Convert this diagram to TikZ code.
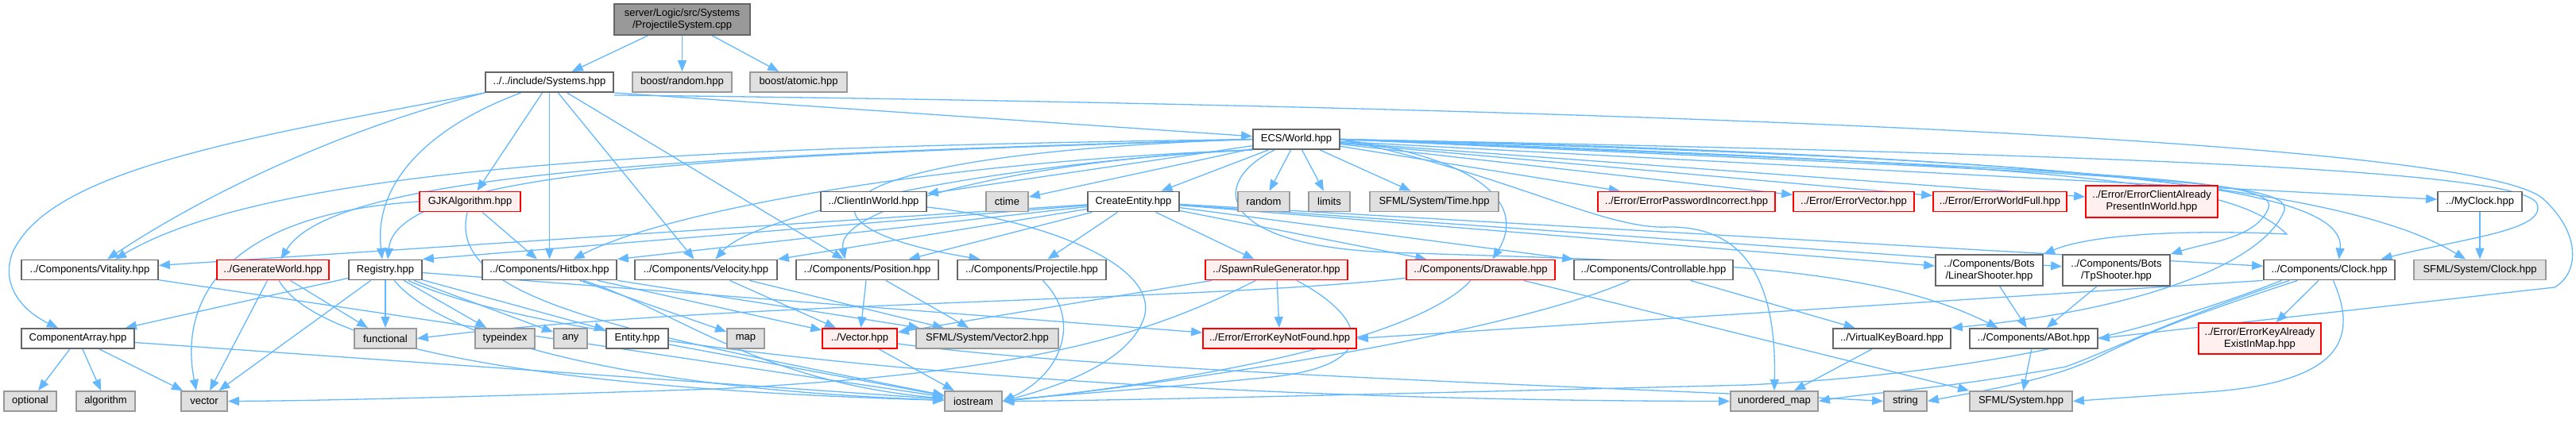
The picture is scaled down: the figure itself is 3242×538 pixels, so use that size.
\documentclass[tikz,border=0pt]{standalone}
\usepackage{fontspec}
\setmainfont{Liberation Sans}
\definecolor{inclblue}{HTML}{63B8FF}
\definecolor{boxline}{HTML}{666666}
\definecolor{stdline}{HTML}{999999}
\definecolor{stdfill}{HTML}{E0E0E0}
\definecolor{errfill}{HTML}{FFF0F0}
\definecolor{srcfill}{HTML}{999999}
\usetikzlibrary{arrows.meta,backgrounds}

\begin{document}
\begin{tikzpicture}[x=1pt, y=-1pt,
    every node/.style={font=\fontsize{13}{15}\selectfont, inner sep=0pt, minimum height=25pt, line width=1.8pt, align=center},
    hdrbox/.style={draw=boxline, fill=white},
    stdbox/.style={draw=stdline, fill=stdfill},
    errbox/.style={draw=red, fill=errfill},
    srcbox/.style={draw=boxline, fill=srcfill},
    incl/.style={inclblue, line width=1.3pt, -{Triangle[length=14pt, width=11pt]}}]
  \useasboundingbox (0,0) rectangle (3242,538);

  % source file and first level
  \node[srcbox, minimum width=171pt, minimum height=39pt] (root) at (858.5,24.5) {server/Logic/src/Systems\\/ProjectileSystem.cpp};
  \node[hdrbox, minimum width=161pt] (sys) at (691.5,103.5) {../../include/Systems.hpp};
  \node[stdbox, minimum width=125pt] (brand) at (858.5,103.5) {boost/random.hpp};
  \node[stdbox, minimum width=122pt] (batom) at (1005,103.5) {boost/atomic.hpp};
  \node[hdrbox, minimum width=109pt] (world) at (1631.5,175.5) {ECS/World.hpp};

  % third row
  \node[errbox, minimum width=127pt] (gjk) at (591.5,254) {GJKAlgorithm.hpp};
  \node[hdrbox, minimum width=133pt] (client) at (1099.5,254) {../ClientInWorld.hpp};
  \node[stdbox, minimum width=53pt] (ctime) at (1267.5,254) {ctime};
  \node[hdrbox, minimum width=115pt] (create) at (1426.5,254) {CreateEntity.hpp};
  \node[stdbox, minimum width=65pt] (random) at (1590.5,254) {random};
  \node[stdbox, minimum width=52pt] (limits) at (1673,254) {limits};
  \node[stdbox, minimum width=162pt] (time) at (1805,254) {SFML/System/Time.hpp};
  \node[errbox, minimum width=223pt] (errpwd) at (2122.5,254) {../Error/ErrorPasswordIncorrect.hpp};
  \node[errbox, minimum width=152pt] (errvec) at (2333,254) {../Error/ErrorVector.hpp};
  \node[errbox, minimum width=168pt] (errfull) at (2517,254) {../Error/ErrorWorldFull.hpp};
  \node[errbox, minimum width=166pt, minimum height=40pt] (errclient) at (2708,254) {../Error/ErrorClientAlready\\PresentInWorld.hpp};
  \node[hdrbox, minimum width=106pt] (myclock) at (3121,254) {../MyClock.hpp};

  % fourth row
  \node[hdrbox, minimum width=172pt] (vitality) at (113,340) {../Components/Vitality.hpp};
  \node[errbox, minimum width=141pt] (genworld) at (343.5,340) {../GenerateWorld.hpp};
  \node[hdrbox, minimum width=92pt] (registry) at (485,340) {Registry.hpp};
  \node[hdrbox, minimum width=169pt] (hitbox) at (691.5,340) {../Components/Hitbox.hpp};
  \node[hdrbox, minimum width=179pt] (velocity) at (888.5,340) {../Components/Velocity.hpp};
  \node[hdrbox, minimum width=179pt] (position) at (1091.5,340) {../Components/Position.hpp};
  \node[hdrbox, minimum width=187pt] (projectile) at (1298.5,340) {../Components/Projectile.hpp};
  \node[errbox, minimum width=179pt] (spawn) at (1606.5,340) {../SpawnRuleGenerator.hpp};
  \node[errbox, minimum width=187pt] (drawable) at (1863.5,340) {../Components/Drawable.hpp};
  \node[hdrbox, minimum width=200pt] (control) at (2081,340) {../Components/Controllable.hpp};
  \node[hdrbox, minimum width=135pt, minimum height=39pt] (linear) at (2503.5,340.5) {../Components/Bots\\/LinearShooter.hpp};
  \node[hdrbox, minimum width=135pt, minimum height=39pt] (tpshoot) at (2663.5,340.5) {../Components/Bots\\/TpShooter.hpp};
  \node[hdrbox, minimum width=165pt] (clock) at (2931.5,340) {../Components/Clock.hpp};
  \node[stdbox, minimum width=166pt] (sfclock) at (3121,340) {SFML/System/Clock.hpp};

  % fifth row
  \node[hdrbox, minimum width=142pt] (comparray) at (98,426.5) {ComponentArray.hpp};
  \node[stdbox, minimum width=78pt] (functional) at (485,426.5) {functional};
  \node[stdbox, minimum width=75pt] (typeindex) at (635.5,426.5) {typeindex};
  \node[stdbox, minimum width=42pt] (any) at (718,426.5) {any};
  \node[hdrbox, minimum width=78pt] (entity) at (802,426.5) {Entity.hpp};
  \node[stdbox, minimum width=47pt] (map) at (938.5,426.5) {map};
  \node[errbox, minimum width=94pt] (vecfile) at (1082,426.5) {../Vector.hpp};
  \node[stdbox, minimum width=179pt] (sfvec2) at (1242.5,426.5) {SFML/System/Vector2.hpp};
  \node[errbox, minimum width=193pt] (errkey) at (1610.5,426.5) {../Error/ErrorKeyNotFound.hpp};
  \node[hdrbox, minimum width=148pt] (vkb) at (2381,426.5) {../VirtualKeyBoard.hpp};
  \node[hdrbox, minimum width=161pt] (abot) at (2559.5,426.5) {../Components/ABot.hpp};
  \node[errbox, minimum width=154pt, minimum height=39pt] (errexist) at (2844,426.5) {../Error/ErrorKeyAlready\\ExistInMap.hpp};

  % bottom row
  \node[stdbox, minimum width=66pt] (optional) at (38,505.5) {optional};
  \node[stdbox, minimum width=74pt] (algorithm) at (133,505.5) {algorithm};
  \node[stdbox, minimum width=58pt] (vector) at (257,505.5) {vector};
  \node[stdbox, minimum width=72pt] (iostream) at (1225,505.5) {iostream};
  \node[stdbox, minimum width=110pt] (umap) at (2233,505.5) {unordered\_map};
  \node[stdbox, minimum width=54pt] (string) at (2398,505.5) {string};
  \node[stdbox, minimum width=129pt] (sfsys) at (2543.5,505.5) {SFML/System.hpp};

  \begin{scope}[on background layer]
    % source file
    \draw[incl] (root) -- (sys);
    \draw[incl] (root) -- (brand);
    \draw[incl] (root) -- (batom);

    % Systems.hpp
    \draw[incl] (sys.south east) -- (world);
    \draw[incl] ([yshift=-3]sys.south east) .. controls (1700,130) and (3100,165) .. (3200,250) .. controls (3250,295) and (3245,345) .. (3215,362) -- (abot.east);
    \draw[incl] (sys.south west) .. controls (300,175) and (60,215) .. (15,320) .. controls (0,365) and (35,395) .. ([xshift=-25]comparray.north);
    \draw[incl] (sys.south west) .. controls (420,165) and (250,250) .. ([xshift=22]vitality.north);
    \draw[incl] (sys) .. controls (540,160) and (470,230) .. ([xshift=-4]registry.north);
    \draw[incl] (sys) -- (gjk);
    \draw[incl] (sys) -- (hitbox);
    \draw[incl] (sys) -- ([xshift=-15]velocity.north);
    \draw[incl] (sys) -- ([xshift=-30]position.north);

    % ECS/World.hpp
    \draw[incl] (world.west) .. controls (900,185) and (350,205) .. ([xshift=32]vitality.north);
    \draw[incl] (world.west) .. controls (900,195) and (420,215) .. ([xshift=10]genworld.north);
    \draw[incl] (world.west) .. controls (1000,195) and (500,205) .. ([xshift=3]registry.north);
    \draw[incl] (world.south west) .. controls (1150,205) and (830,270) .. ([xshift=30]hitbox.north);
    \draw[incl] (world.south west) .. controls (1250,205) and (950,270) .. ([xshift=12]velocity.north);
    \draw[incl] (world.south west) .. controls (1300,200) and (1050,260) .. ([xshift=-28]position.north);
    \draw[incl] (world.west) .. controls (1000,195) and (980,285) .. ([xshift=-65]projectile.north);
    \draw[incl] (world) -- (client);
    \draw[incl] (world) -- (ctime);
    \draw[incl] (world) -- (create);
    \draw[incl] (world) -- (random);
    \draw[incl] (world) -- (limits);
    \draw[incl] (world) -- (time);
    \draw[incl] (world) -- (errpwd);
    \draw[incl] (world) -- (errvec);
    \draw[incl] (world) -- (errfull);
    \draw[incl] (world) -- (errclient);
    \draw[incl] (world) -- (myclock);
    \draw[incl] (world.east) .. controls (1870,200) and (1920,260) .. ([xshift=15]drawable.north);
    \draw[incl] (world.east) .. controls (1900,220) and (2020,290) .. (2100,286) .. controls (2200,285) and (2236,360) .. (umap.north);
    \draw[incl] (world) .. controls (1520,230) and (1530,310) .. (1750,318) .. controls (2100,330) and (2350,330) .. ([xshift=-45]abot.north);
    \draw[incl] (world.east) .. controls (2600,195) and (2960,240) .. ([xshift=-18]sfclock.north);
    \draw[incl] (world.east) .. controls (2600,200) and (2955,230) .. ([xshift=12]clock.north);
    \draw[incl] (world.east) .. controls (2700,195) and (3160,215) .. (3192,255) .. controls (3210,290) and (3100,300) .. ([xshift=65]clock.north);
    \draw[incl] (world.east) .. controls (2650,210) and (2810,230) .. (2878,295) .. controls (2780,290) and (2640,292) .. (linear.north east);
    \draw[incl] (world.east) .. controls (2650,215) and (2870,225) .. (2855,262) .. controls (2840,300) and (2780,305) .. (tpshoot.north east);
    \draw[incl] (world.east) .. controls (2650,220) and (2885,225) .. (2875,265) .. controls (2850,330) and (2700,390) .. (vkb.north east);

    % CreateEntity.hpp
    \draw[incl] (create) -- (vitality);
    \draw[incl] (create) -- (registry.north east);
    \draw[incl] (create) -- (hitbox.north east);
    \draw[incl] (create) -- (velocity.north east);
    \draw[incl] (create) -- (position);
    \draw[incl] (create) -- (projectile);
    \draw[incl] (create) -- (spawn);
    \draw[incl] (create) -- (drawable);
    \draw[incl] (create) -- (control);
    \draw[incl] (create) -- (linear);
    \draw[incl] (create) -- (tpshoot);
    \draw[incl] (create) -- (clock);

    % Registry.hpp and friends
    \draw[incl] (registry) -- (comparray);
    \draw[incl] (registry) -- (vector);
    \draw[incl] (registry) -- (functional);
    \draw[incl] (registry) -- (typeindex);
    \draw[incl] (registry) -- (any);
    \draw[incl] (registry) -- (entity);
    \draw[incl] (registry) -- (errkey);
    \draw[incl] (registry) .. controls (560,430) and (800,490) .. (iostream);
    \draw[incl] (registry) .. controls (700,440) and (1400,505) .. (umap.west);
    \draw[incl] (comparray) -- (optional);
    \draw[incl] (comparray) -- (algorithm);
    \draw[incl] (comparray) -- (vector);
    \draw[incl] (comparray) -- (iostream);
    \draw[incl] (entity) -- (iostream);
    \draw[incl] (vitality) -- (iostream);
    \draw[incl] (genworld) -- (vector);
    \draw[incl] (genworld) -- (functional);
    \draw[incl] (genworld) .. controls (400,440) and (700,490) .. (iostream);
    \draw[incl] (gjk) -- (hitbox);
    \draw[incl] (gjk.west) .. controls (280,270) and (225,380) .. ([xshift=-10]vector.north);
    \draw[incl] (gjk) .. controls (560,380) and (800,420) .. (iostream);

    % components
    \draw[incl] (hitbox) -- (map);
    \draw[incl] (hitbox) -- (vecfile);
    \draw[incl] (hitbox) -- (sfvec2);
    \draw[incl] (hitbox) .. controls (850,390) and (950,480) .. (iostream);
    \draw[incl] (velocity) -- (vecfile);
    \draw[incl] (velocity) -- (sfvec2);
    \draw[incl] (position) -- (vecfile);
    \draw[incl] (position) -- (sfvec2);
    \draw[incl] (projectile) .. controls (1360,400) and (1340,470) .. (iostream.east);
    \draw[incl] (vecfile) -- (iostream);
    \draw[incl] (vecfile) .. controls (1400,470) and (2100,490) .. (string.west);
    \draw[incl] (client) .. controls (1300,275) and (1460,330) .. (1440,400) .. controls (1420,460) and (1320,490) .. (iostream.east);
    \draw[incl] (spawn) -- (errkey);
    \draw[incl] (spawn) -- (vecfile);
    \draw[incl] (spawn) .. controls (1720,400) and (1740,460) .. (1600,475) .. controls (1450,490) and (1300,500) .. (iostream.east);
    \draw[incl] (spawn) .. controls (1450,420) and (1300,470) .. (900,490) .. controls (600,500) and (400,505) .. (vector.east);
    \draw[incl] (drawable) .. controls (1500,380) and (900,380) .. (functional.east);
    \draw[incl] (drawable) .. controls (1780,430) and (1500,480) .. (iostream.east);
    \draw[incl] (drawable) -- (sfsys.north west);
    \draw[incl] (control) -- (vkb);
    \draw[incl] (control) .. controls (1900,420) and (1500,480) .. (iostream.east);
    \draw[incl] (linear) -- (abot);
    \draw[incl] (tpshoot) -- (abot);
    \draw[incl] (abot) -- (sfsys);
    \draw[incl] (vkb) -- (umap);
    \draw[incl] (myclock) -- (sfclock);

    % Clock.hpp
    \draw[incl] (clock) -- (errexist);
    \draw[incl] (clock.south west) -- (errkey.east);
    \draw[incl] ([xshift=-40]clock.south) .. controls (2750,400) and (2700,420) .. (2640,450) .. controls (2580,480) and (2480,495) .. (string.east);
    \draw[incl] ([xshift=-50]clock.south) .. controls (2740,400) and (2660,440) .. (2600,462) .. controls (2450,490) and (2350,495) .. (umap.east);
    \draw[incl] ([xshift=-60]clock.south) .. controls (2700,420) and (2500,470) .. (2200,485) .. controls (1800,495) and (1400,505) .. (iostream.east);
    \draw[incl] ([xshift=5]clock.south) .. controls (2965,420) and (2960,485) .. (2760,495) -- (sfsys.east);
  \end{scope}
\end{tikzpicture}
\end{document}
